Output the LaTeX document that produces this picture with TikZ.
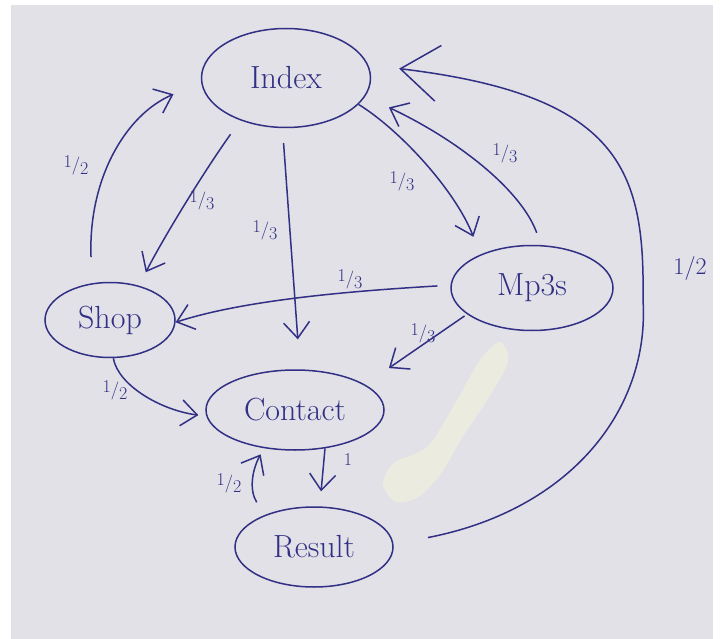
\documentclass[tikz,border=0pt]{standalone}
\usepackage{tikz}
\usetikzlibrary{shapes.geometric,arrows.meta}

\definecolor{ink}{RGB}{50,48,132}
\definecolor{paper}{RGB}{226,225,232}
\definecolor{stain}{RGB}{236,235,224}

\newcommand{\hfrac}[2]{\raisebox{0.4ex}{#1}/\raisebox{-0.5ex}{#2}}

\begin{document}
\begin{tikzpicture}[
    x=1pt, y=-1pt,
    page/.style={ellipse, draw=ink, line width=1.5pt, inner sep=0pt, text=ink,
      font=\fontsize{32}{36}\selectfont},
    prob/.style={text=ink, inner sep=1pt, font=\fontsize{18}{20}\selectfont},
    bigprob/.style={text=ink, inner sep=1pt, font=\fontsize{24}{26}\selectfont},
    link/.style={-{Straight Barb[length=16pt,width=26pt]}, draw=ink, line width=1.5pt},
    bigarc/.style={-{Straight Barb[length=38pt,width=56pt]}, draw=ink, line width=1.5pt},
  ]

  % sheet of paper
  \fill[white] (0,0) rectangle (720,639);
  \fill[paper] (11,5) rectangle (713,639);
  \fill[stain] plot[smooth cycle] coordinates {(500,342) (508,362) (486,402) (462,438)
    (442,472) (420,496) (396,502) (383,484) (394,463) (428,446) (456,402) (480,360)};

  % pages
  \node (index)   [page, minimum width=169pt, minimum height=99pt] at (286,78)  {Index};
  \node (shop)    [page, minimum width=130pt, minimum height=75pt] at (110,320) {Shop};
  \node (mp3s)    [page, minimum width=162pt, minimum height=85pt] at (532,288) {Mp3s};
  \node (contact) [page, minimum width=178pt, minimum height=80pt] at (295,410) {Contact};
  \node (result)  [page, minimum width=158pt, minimum height=80pt] at (314,547) {Result};

  % links
  \draw[link, shorten <=26pt, shorten >=30pt] (shop.116) .. controls (88,180) and (125,115) .. (index.183);
  \draw[link, shorten <=17pt, shorten >=15pt] (index.223) .. controls (205,170) and (165,235) .. (shop.50);
  \draw[link, shorten <=15pt, shorten >=30pt] (index.266) -- (contact.83);
  \draw[link, shorten >=19pt] (index.340) .. controls (400,130) and (455,190) .. (mp3s.147);
  \draw[link, shorten <=13pt, shorten >=26pt] (mp3s.78) .. controls (522,192) and (462,142) .. (index.347);
  \draw[link, shorten <=13pt] (mp3s.178) .. controls (370,290) and (250,298) .. (shop.358);
  \draw[link, shorten <=3pt, shorten >=29pt] (mp3s.202) -- (contact.20);
  \draw[link, shorten >=8pt] (shop.275) .. controls (118,385) and (160,410) .. (contact.184);
  \draw[link, shorten >=15pt] (contact.308) -- (result.82);
  \draw[link, shorten <=15pt, shorten >=7pt] (result.147) .. controls (249,490) and (252,470) .. (contact.231);
  \draw[bigarc, shorten <=35pt, shorten >=31pt] (result.2) .. controls (570,510) and (650,410) .. (643,300)
    .. controls (645,170) and (620,95) .. (index.9);

  % probabilities
  \node (pshopindex)    [prob] at (76,165)  {\hfrac{1}{2}};
  \node (pindexshop)    [prob] at (202,200) {\hfrac{1}{3}};
  \node (pindexcontact) [prob] at (265,230) {\hfrac{1}{3}};
  \node (pindexmp3s)    [prob] at (402,181) {\hfrac{1}{3}};
  \node (pmp3sindex)    [prob] at (505,153) {\hfrac{1}{3}};
  \node (pmp3sshop)     [prob] at (350,279) {\hfrac{1}{3}};
  \node (pmp3scontact)  [prob] at (423,333) {\hfrac{1}{3}};
  \node (pshopcontact)  [prob] at (115,390) {\hfrac{1}{2}};
  \node (pcontactres)   [prob] at (348,460) {1};
  \node (prescontact)   [prob] at (229,483) {\hfrac{1}{2}};
  \node (presindex)     [bigprob] at (690,268) {1/2};

\end{tikzpicture}
\end{document}
